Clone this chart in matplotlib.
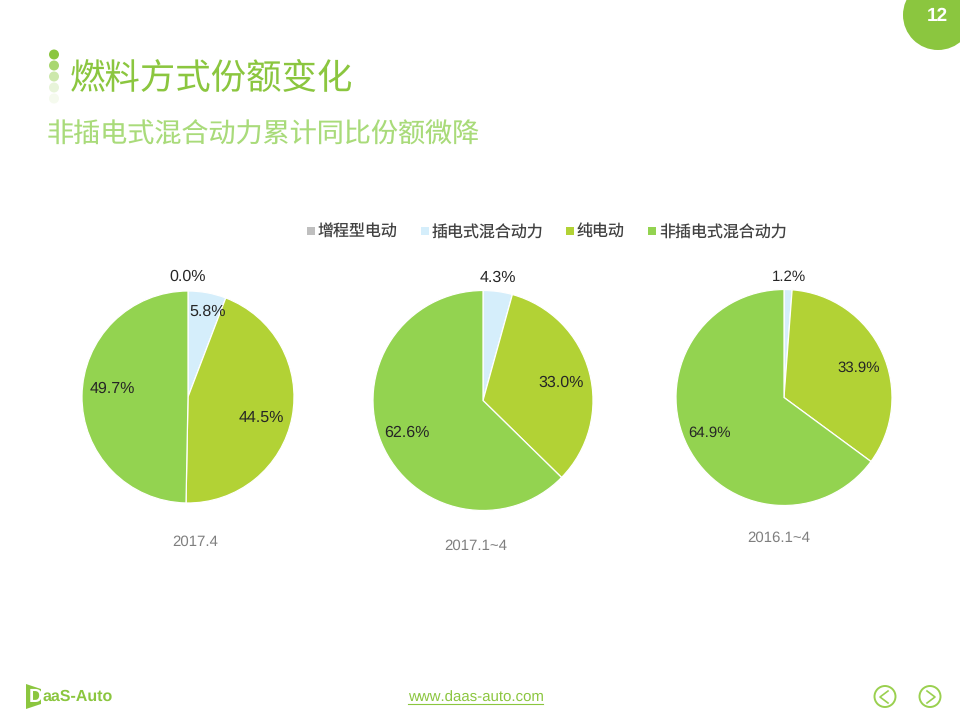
import matplotlib
matplotlib.use("Agg")
import matplotlib.pyplot as plt
from matplotlib.patches import Circle, Polygon

plt.rcParams['font.family'] = ['Noto Sans CJK SC', 'DejaVu Sans']
plt.rcParams['text.hinting'] = 'no_hinting'
plt.rcParams['text.hinting_factor'] = 1
LATIN = ['Liberation Sans', 'DejaVu Sans']

# Data
categories = ["增程型电动", "插电式混合动力", "纯电动", "非插电式混合动力"]
colors = ["#BFBFBF", "#D5EEFB", "#B2D235", "#93D350"]
periods = ["2017.4", "2017.1~4", "2016.1~4"]
share_2017_4 = [0.0, 5.8, 44.5, 49.7]
share_2017_ytd = [0.0, 4.3, 33.0, 62.6]
share_2016_ytd = [0.0, 1.2, 33.9, 64.9]

W, H = 960, 720
fig = plt.figure(figsize=(9.6, 7.2), dpi=100)

# full page overlay in pixel coordinates (y down)
page = fig.add_axes([0, 0, 1, 1], zorder=5)
page.set_xlim(0, W)
page.set_ylim(H, 0)
page.axis("off")


def draw_pie(values, cx, cy, r):
    ax = fig.add_axes([(cx - r) / W, 1 - (cy + r) / H, 2 * r / W, 2 * r / H])
    ax.pie(values, colors=colors, startangle=90, counterclock=False, radius=1,
           wedgeprops=dict(edgecolor="white", linewidth=0.9))
    ax.set_xlim(-1, 1)
    ax.set_ylim(-1, 1)
    ax.set_aspect("equal")
    ax.axis("off")


draw_pie(share_2017_4, 188, 397, 106)
draw_pie(share_2017_ytd, 483, 400.5, 110)
draw_pie(share_2016_ytd, 784, 397.5, 108)


def label(x, y, value, size):
    page.text(x, y, f"{value:.1f}%", family=LATIN, fontsize=size, color="#262626",
              ha="center", va="center")


label(188, 276.5, share_2017_4[0], 11.4)
label(207.5, 311.5, share_2017_4[1], 11.4)
label(261.5, 417.5, share_2017_4[2], 11.4)
label(112.5, 388.5, share_2017_4[3], 11.4)
label(497.5, 278, share_2017_ytd[1], 11.2)
label(561.5, 383, share_2017_ytd[2], 11.2)
label(407, 433, share_2017_ytd[3], 11.2)
label(789, 277, share_2016_ytd[1], 10.6)
label(858.5, 367.5, share_2016_ytd[2], 10.6)
label(710, 433, share_2016_ytd[3], 10.6)

# period captions
for x, y, s in zip([195, 475.5, 778.5], [541.5, 545.5, 537.5], periods):
    page.text(x, y, s, family=LATIN, fontsize=10.8, color="#7F7F7F", ha="center", va="center")

# legend
for x, name, c in zip([307, 421, 566, 648], categories, colors):
    page.add_patch(plt.Rectangle((x, 227), 7.5, 7.5, color=c, lw=0))
    page.text(x + 11, 232.5, name, fontsize=11.5, color="#404040", ha="left", va="center")

# header
green = "#8BC63F"
for y, c in zip([54.5, 65.5, 76.5, 87.5, 98.5],
                ["#8BC63F", "#A9D770", "#CDE8AC", "#E8F4DA", "#F5FAEE"]):
    page.add_patch(Circle((54, y), 5, color=c, lw=0))
page.text(70, 79, "燃料方式份额变化", fontsize=25.5, color=green, ha="left", va="center")
page.text(47, 135, "非插电式混合动力累计同比份额微降", fontsize=19.5, color="#A9DB7A",
          ha="left", va="center")

# page number
page.add_patch(Circle((938, 15), 35, color=green, lw=0, clip_on=True))
page.text(937, 16.5, "12", family=LATIN, fontsize=14, fontweight="bold", color="white",
          ha="center", va="center")

# footer
page.add_patch(Polygon([(26, 684), (41, 689), (41, 704), (26, 709)], closed=True, color=green, lw=0))
page.text(29, 697, "D", family=LATIN, fontsize=13.5, fontweight="bold", color="white", ha="left", va="center")
page.text(43, 697, "aaS-Auto", family=LATIN, fontsize=11.5, fontweight="bold", color=green, ha="left", va="center")
page.text(475.5, 698, "www.daas-auto.com", family=LATIN, fontsize=10.6, color=green, ha="center", va="center")
page.plot([408, 543], [704, 704], color=green, lw=0.8)

# nav buttons
for cx, d in [(885, -1), (930, 1)]:
    page.add_patch(Circle((cx, 696.5), 10.5, fill=False, edgecolor="#9AD04F", lw=1.4))
    page.plot([cx - 3 * d, cx + 5 * d, cx - 3 * d], [691, 697, 703], color="#9AD04F", lw=1.2)

fig.savefig("out.png", dpi=100)
